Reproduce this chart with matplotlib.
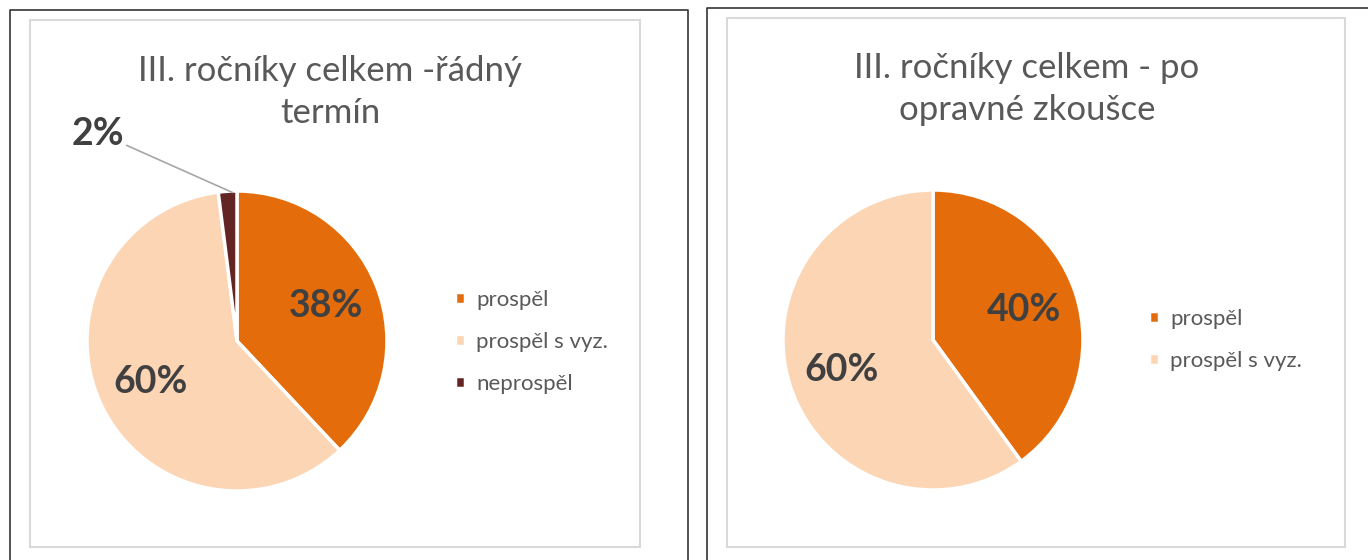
import matplotlib.pyplot as plt
from matplotlib.patches import Rectangle
from matplotlib.lines import Line2D

plt.rcParams['font.family'] = ['Lato', 'DejaVu Sans']

# data
labels_1 = ['prospěl', 'prospěl s vyz.', 'neprospěl']
values_1 = [38, 60, 2]
labels_2 = ['prospěl', 'prospěl s vyz.']
values_2 = [40, 60]
title_1 = 'III. ročníky celkem -řádný\ntermín'
title_2 = 'III. ročníky celkem - po\nopravné zkoušce'

colors = ['#E46C0A', '#FCD5B5', '#632523']
text_gray = '#595959'
label_gray = '#404040'

W, H = 1368, 560
fig = plt.figure(figsize=(W / 100, H / 100), dpi=100)


def fx(x):
    return x / W


def fy(y):
    return 1 - y / H


# frames: outer black + inner light gray
def frame(x0, y0, x1, y1, color, lw):
    fig.add_artist(Line2D([fx(x0), fx(x0), fx(x1), fx(x1)],
                          [fy(y1), fy(y0), fy(y0), fy(y1)],
                          color=color, lw=lw, transform=fig.transFigure))


frame(10, 10, 688, 570, '#333333', 1.2)
frame(707, 8, 1380, 570, '#333333', 1.2)
for x0, y0, x1, y1 in [(30, 20, 640, 547), (727, 18, 1345, 547)]:
    fig.add_artist(Rectangle((fx(x0), fy(y1)), fx(x1) - fx(x0), fy(y0) - fy(y1),
                             fill=False, ec='#D9D9D9', lw=1.5, transform=fig.transFigure))


def draw_pie(cx, cy, r, values, labels, title, title_x, title_y, legend_x, legend_y):
    ax = fig.add_axes([fx(cx - r), fy(cy + r), 2 * r / W, 2 * r / H])
    wedges, texts, autotexts = ax.pie(
        values, colors=colors[:len(values)], startangle=90, counterclock=False,
        autopct='%1.0f%%', pctdistance=0.64,
        wedgeprops=dict(edgecolor='white', linewidth=2.5),
        textprops=dict(color=label_gray, fontsize=27, fontweight='bold'))
    ax.set_xlim(-1, 1)
    ax.set_ylim(-1, 1)
    ax.axis('off')
    fig.text(fx(title_x), fy(title_y), title, ha='center', va='center',
             fontsize=25, color=text_gray, linespacing=1.35)
    fig.legend(wedges, labels, loc='center left',
               bbox_to_anchor=(fx(legend_x), fy(legend_y)),
               frameon=False, fontsize=16, labelcolor=text_gray,
               handlelength=0.45, handleheight=0.45, handletextpad=0.5,
               labelspacing=1.0)
    return ax, autotexts


ax1, at1 = draw_pie(237, 341, 150, values_1, labels_1, title_1, 330, 92, 435, 342)
ax2, at2 = draw_pie(933, 340, 150, values_2, labels_2, title_2, 1027, 89, 1129, 340)

# small slice label placed outside with leader line
at1[2].set_visible(False)
ax1.annotate('2%', xy=(-0.03, 0.99), xytext=(-0.93, 1.38),
             ha='center', va='center', fontsize=27, fontweight='bold',
             color=label_gray, annotation_clip=False,
             arrowprops=dict(arrowstyle='-', color='#A6A6A6', lw=1.2,
                             shrinkA=0, shrinkB=0, relpos=(1.0, 0.25),
                             connectionstyle='angle,angleA=0,angleB=156,rad=0'))

fig.savefig('out.png', dpi=100)
